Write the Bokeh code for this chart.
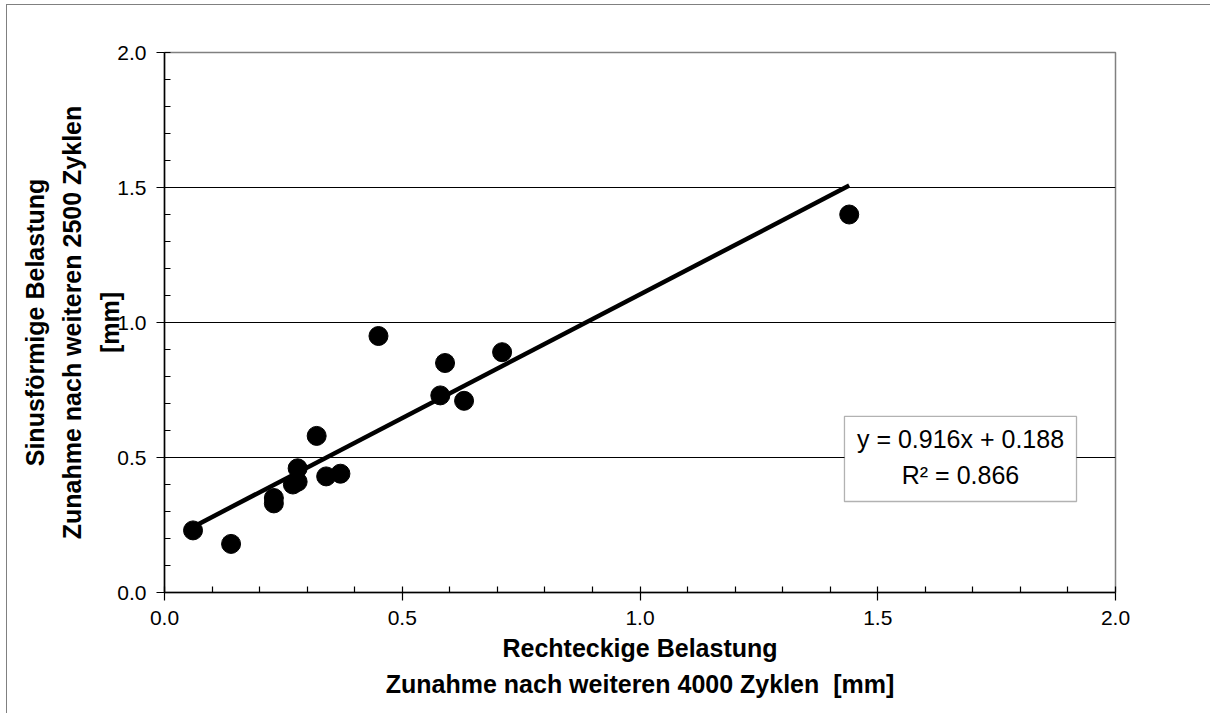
from bokeh.plotting import figure
from bokeh.models import (Range1d, SingleIntervalTicker, FixedTicker, NumeralTickFormatter,
                          BoxAnnotation, Label, ColumnDataSource)
from bokeh.embed import file_html
from bokeh.resources import INLINE

# ---- data ----
x_rect = [0.06, 0.14, 0.23, 0.23, 0.28, 0.27, 0.28, 0.32, 0.34, 0.37, 0.45, 0.59, 0.58, 0.63, 0.71, 1.44]
y_sinus = [0.23, 0.18, 0.35, 0.33, 0.46, 0.40, 0.41, 0.58, 0.43, 0.44, 0.95, 0.85, 0.73, 0.71, 0.89, 1.40]
trend_slope = 0.916
trend_intercept = 0.188
trend_r2 = 0.866
x_title = "Rechteckige Belastung\nZunahme nach weiteren 4000 Zyklen\u00a0\u00a0[mm]"
y_title = "Sinusförmige Belastung\nZunahme nach weiteren 2500 Zyklen\n[mm]"

FONT = "Liberation Sans"

p = figure(width=1204, height=709, output_backend="svg", toolbar_location=None,
           x_range=Range1d(0, 2), y_range=Range1d(0, 2),
           min_border_left=157, min_border_right=96, min_border_top=47, min_border_bottom=122)
p.styles = {"border-left": "1.5px solid #808080", "border-top": "1.5px solid #808080",
            "margin-left": "6px", "margin-top": "4px"}
p.background_fill_color = "white"
p.border_fill_color = "white"
p.outline_line_color = "#808080"
p.outline_line_width = 1.5

for ax in (p.xaxis[0], p.yaxis[0]):
    ax.ticker = SingleIntervalTicker(interval=0.5, num_minor_ticks=5)
    ax.formatter = NumeralTickFormatter(format="0.0")
    ax.axis_line_color = "black"
    ax.axis_line_width = 1.5
    ax.major_tick_line_color = "black"
    ax.major_tick_line_width = 1.2
    ax.minor_tick_line_color = "black"
    ax.minor_tick_line_width = 1.2
    ax.major_tick_in = 0
    ax.major_tick_out = 8
    ax.minor_tick_in = 6
    ax.minor_tick_out = 0
    ax.major_label_text_font = FONT
    ax.major_label_text_font_size = "21px"
    ax.major_label_text_color = "black"
    ax.axis_label_text_font = FONT
    ax.axis_label_text_font_size = "25px"
    ax.axis_label_text_font_style = "bold"
    ax.axis_label_text_color = "black"
    ax.axis_label_text_align = "center"

p.xaxis.axis_label = x_title
p.yaxis.axis_label = y_title
p.xaxis.axis_label_text_line_height = 1.3
p.yaxis.axis_label_text_line_height = 1.35
p.xaxis.major_label_standoff = 10
p.yaxis.major_label_standoff = 10
p.xaxis.axis_label_standoff = 6
p.yaxis.axis_label_standoff = -10

p.xgrid.visible = False
p.ygrid.ticker = FixedTicker(ticks=[0.5, 1.0, 1.5])
p.ygrid.grid_line_color = "black"
p.ygrid.grid_line_width = 1

# scatter
src = ColumnDataSource(dict(x=x_rect, y=y_sinus))
p.scatter("x", "y", source=src, size=19, marker="circle", fill_color="black", line_color="black")

# trend line
x0, x1 = min(x_rect), max(x_rect)
p.line([x0, x1], [trend_slope * x0 + trend_intercept, trend_slope * x1 + trend_intercept],
       line_color="black", line_width=4.5)

# equation box
box = BoxAnnotation(left=1.43, right=1.918, bottom=0.337, top=0.652,
                    fill_color="white", fill_alpha=1.0, line_color="black", line_width=1.3)
p.add_layout(box)
p.add_layout(Label(x=1.674, y=0.567, text=f"y = {trend_slope}x + {trend_intercept}",
                   text_align="center", text_baseline="middle", text_font=FONT,
                   text_font_size="25px", text_color="black"))
p.add_layout(Label(x=1.674, y=0.437, text=f"R² = {trend_r2}",
                   text_align="center", text_baseline="middle", text_font=FONT,
                   text_font_size="25px", text_color="black"))

open("out.html", "w").write(file_html(p, INLINE))
